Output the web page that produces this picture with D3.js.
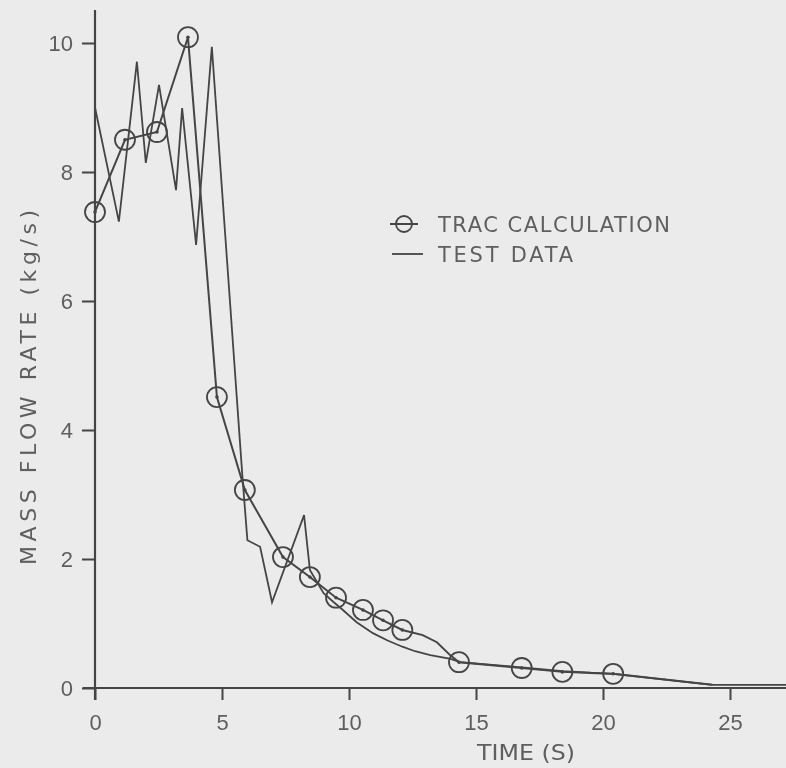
<!DOCTYPE html>
<html>
<head>
<meta charset="utf-8">
<script src="https://cdn.jsdelivr.net/npm/d3@7"></script>
<style>
  html, body { margin: 0; padding: 0; background: #ebebeb; }
  svg { display: block; }
  .tick text { font-family: "Liberation Sans", Arial, sans-serif; fill: #5e5e5e; }
  .label { font-family: "DejaVu Sans", sans-serif; fill: #5e5e5e; }
</style>
</head>
<body>
<svg id="chart" width="786" height="768"></svg>
<script>
// TRAC calculation, marker positions
var tracTime = [0, 1.18, 2.44, 3.66, 4.8, 5.9, 7.4, 8.46, 9.49, 10.55, 11.34, 12.1, 14.33, 16.8, 18.4, 20.4];
var tracRate = [7.38, 8.5, 8.62, 10.09, 4.51, 3.07, 2.03, 1.72, 1.40, 1.21, 1.05, 0.9, 0.40, 0.31, 0.25, 0.22];

// TRAC calculation, connecting line (markers plus bends between them)
var tracLineTime = [0, 1.18, 2.44, 3.66, 4.8, 5.9, 7.4, 8.46, 9.49, 10.55, 11.34, 12.1, 12.9, 13.46, 13.98, 14.33, 16.8, 18.4, 20.4, 24.3];
var tracLineRate = [7.38, 8.5, 8.62, 10.09, 4.51, 3.07, 2.03, 1.72, 1.40, 1.21, 1.05, 0.9, 0.82, 0.71, 0.51, 0.40, 0.31, 0.25, 0.22, 0.05];

// test data
var testTime = [0, 0.94, 1.65, 2.0, 2.52, 3.19, 3.43, 3.98, 4.6, 5.8, 6.0, 6.5, 6.97, 8.23, 8.46, 9.0, 9.4, 9.76, 10.3, 10.94, 11.5, 12.1, 12.6, 13.2, 14.0, 14.37, 16.8, 18.4, 20.4, 24.3, 27.3];
var testRate = [9.0, 7.23, 9.71, 8.14, 9.35, 7.72, 8.99, 6.87, 9.94, 3.3, 2.29, 2.19, 1.33, 2.68, 1.83, 1.47, 1.33, 1.21, 1.02, 0.85, 0.74, 0.64, 0.57, 0.51, 0.45, 0.40, 0.32, 0.26, 0.22, 0.05, 0.05];

var xTicks = [0, 5, 10, 15, 20, 25];
var yTicks = [0, 2, 4, 6, 8, 10];

var ink = '#454545';
var svg = d3.select('#chart');

var defs = svg.append('defs');
defs.append('filter').attr('id', 'soft')
  .append('feGaussianBlur').attr('stdDeviation', 0.6);

var x = d3.scaleLinear().domain([0, 25]).range([95, 730]);
var y = d3.scaleLinear().domain([0, 10]).range([688, 43]);

var g = svg.append('g').attr('filter', 'url(#soft)');

// axes
var yAxis = g.append('g')
  .attr('transform', 'translate(' + x(0) + ',0)')
  .call(d3.axisLeft(y).tickValues(yTicks).tickSize(13).tickPadding(9).tickFormat(d3.format('d')));
var xAxis = g.append('g')
  .attr('transform', 'translate(0,' + y(0) + ')')
  .call(d3.axisBottom(x).tickValues(xTicks).tickSize(12).tickPadding(14).tickFormat(d3.format('d')));
[xAxis, yAxis].forEach(function(a) {
  a.select('.domain').remove();
  a.selectAll('.tick line').attr('stroke', ink).attr('stroke-width', 2);
  a.selectAll('.tick text').attr('font-size', 22);
});

g.append('line')
  .attr('x1', x(0)).attr('x2', x(0))
  .attr('y1', 10).attr('y2', y(0) + 12)
  .attr('stroke', ink).attr('stroke-width', 2.2);
g.append('line')
  .attr('x1', 83).attr('x2', 786)
  .attr('y1', y(0)).attr('y2', y(0))
  .attr('stroke', ink).attr('stroke-width', 2.2);

// test data line
var line = d3.line()
  .x(function(d) { return x(d[0]); })
  .y(function(d) { return y(d[1]); });

g.append('path')
  .datum(d3.zip(testTime, testRate))
  .attr('d', line)
  .attr('fill', 'none')
  .attr('stroke', ink)
  .attr('stroke-width', 1.8);

// TRAC line + markers
g.append('path')
  .datum(d3.zip(tracLineTime, tracLineRate))
  .attr('d', line)
  .attr('fill', 'none')
  .attr('stroke', ink)
  .attr('stroke-width', 2);

var marks = g.selectAll('g.mark')
  .data(d3.zip(tracTime, tracRate))
  .enter()
  .append('g')
  .attr('class', 'mark')
  .attr('transform', function(d) {
    return 'translate(' + x(d[0]) + ',' + y(d[1]) + ')';
  });
marks.append('circle')
  .attr('r', 10)
  .attr('fill', 'none')
  .attr('stroke', ink)
  .attr('stroke-width', 1.8);
marks.append('circle')
  .attr('r', 1.8)
  .attr('fill', ink);

// axis titles
g.append('text')
  .attr('class', 'label')
  .attr('x', 477).attr('y', 760)
  .attr('font-size', 21)
  .attr('textLength', 98)
  .attr('lengthAdjust', 'spacingAndGlyphs')
  .text('TIME (S)');
g.append('text')
  .attr('class', 'label')
  .attr('transform', 'translate(36,565) rotate(-90)')
  .attr('font-size', 22)
  .attr('textLength', 355)
  .attr('lengthAdjust', 'spacing')
  .text('MASS FLOW RATE (kg/s)');

// legend
var legend = g.append('g');
legend.append('line')
  .attr('x1', 390).attr('x2', 418).attr('y1', 224).attr('y2', 224)
  .attr('stroke', ink).attr('stroke-width', 2);
legend.append('circle')
  .attr('cx', 404).attr('cy', 224).attr('r', 8)
  .attr('fill', 'none').attr('stroke', ink).attr('stroke-width', 1.8);
legend.append('line')
  .attr('x1', 392).attr('x2', 423).attr('y1', 254).attr('y2', 254)
  .attr('stroke', ink).attr('stroke-width', 1.8);
legend.append('text')
  .attr('class', 'label')
  .attr('x', 438).attr('y', 232)
  .attr('font-size', 21)
  .attr('textLength', 232)
  .attr('lengthAdjust', 'spacing')
  .text('TRAC CALCULATION');
legend.append('text')
  .attr('class', 'label')
  .attr('x', 438).attr('y', 262)
  .attr('font-size', 21)
  .attr('textLength', 135)
  .attr('lengthAdjust', 'spacing')
  .text('TEST DATA');
</script>
</body>
</html>
